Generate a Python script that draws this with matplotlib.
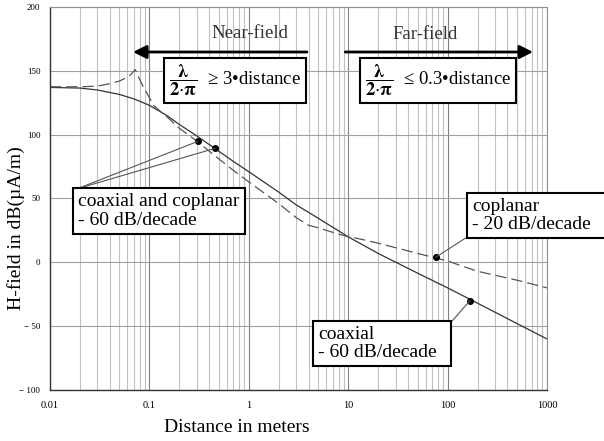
import matplotlib
matplotlib.use("Agg")
import matplotlib.pyplot as plt
from matplotlib.ticker import FixedLocator, FixedFormatter, LogLocator, NullFormatter

plt.rcParams['font.family'] = ['Liberation Serif', 'DejaVu Serif']
plt.rcParams['mathtext.fontset'] = 'stix'

# data
coax_d = [0.01, 0.02, 0.03, 0.05, 0.07, 0.1, 0.15, 0.2, 0.3, 0.5, 0.7, 1, 2, 3, 5,
          10, 20, 50, 100, 200, 500, 1000]
coax_db = [137, 136.5, 135, 131.5, 128, 123, 115, 108, 99, 87, 79, 71, 55, 45, 34.5,
           20, 7, -8.5, -20, -32, -48, -60]

copl_d = [0.01, 0.02, 0.03, 0.04, 0.05, 0.06, 0.065, 0.072, 0.078, 0.086, 0.1, 0.11,
          0.13, 0.15, 0.2, 0.3, 0.5, 0.7, 1, 2, 3, 4, 5, 7, 10, 12, 20, 50, 100, 200,
          500, 1000]
copl_db = [137.5, 137.5, 138, 140, 142, 145, 147, 151, 145, 138, 129, 123,
           118, 114, 105, 95, 81, 72, 63, 46, 35, 29, 27, 23.5, 20, 19, 15, 7, 1, -7,
           -14, -20]

# marked points (distance, dB)
dots_d = [0.308, 0.457, 76, 168]
dots_db = [94.8, 89.3, 4, -30]

x_ticks = [0.01, 0.1, 1, 10, 100, 1000]
x_labels = ['0.01', '0.1', '1', '10', '100', '1000']
y_ticks = [-100, -50, 0, 50, 100, 150, 200]
y_labels = ['\u2212 100', '\u2212 50', '0', '50', '100', '150', '200']

fig = plt.figure(figsize=(6.04, 4.41), dpi=100)
ax = fig.add_axes([50/604, 1-390/441, 497/604, 383/441])

ax.set_xscale('log')
ax.set_xlim(0.01, 1000)
ax.set_ylim(-100, 200)

ax.xaxis.set_major_locator(FixedLocator(x_ticks))
ax.xaxis.set_major_formatter(FixedFormatter(x_labels))
ax.xaxis.set_minor_locator(LogLocator(base=10, subs=range(2, 10)))
ax.xaxis.set_minor_formatter(NullFormatter())
ax.yaxis.set_major_locator(FixedLocator(y_ticks))
ax.yaxis.set_major_formatter(FixedFormatter(y_labels))
ax.tick_params(which='both', length=0)
ax.tick_params(axis='x', labelsize=7.5, pad=8)
ax.tick_params(axis='y', labelsize=6.5, pad=7)

ax.grid(which='major', axis='x', color='#808080', lw=0.8)
ax.grid(which='minor', axis='x', color='#c0c0c0', lw=0.8)
ax.grid(which='major', axis='y', color='#a0a0a0', lw=0.8)
ax.set_axisbelow(True)
for s in ['top', 'right']:
    ax.spines[s].set_color('#909090')
    ax.spines[s].set_linewidth(0.8)
for s in ['left', 'bottom']:
    ax.spines[s].set_color('#333333')
    ax.spines[s].set_linewidth(1.0)

ax.plot(coax_d, coax_db, color='#333333', lw=0.9)
ax.plot(copl_d, copl_db, color='#555555', lw=0.9, dashes=(9, 4))
ax.plot(dots_d, dots_db, 'o', color='black', ms=4)

# near/far field arrows and labels
ax.annotate('', xy=(0.167, 0.8825), xytext=(0.517, 0.8825), xycoords='axes fraction',
            arrowprops=dict(arrowstyle='-|>', lw=2, color='black', mutation_scale=20,
                            shrinkA=0, shrinkB=0))
ax.annotate('', xy=(0.972, 0.8825), xytext=(0.594, 0.8825), xycoords='axes fraction',
            arrowprops=dict(arrowstyle='-|>', lw=2, color='black', mutation_scale=20,
                            shrinkA=0, shrinkB=0))
ax.text(0.402, 0.932, 'Near-field', transform=ax.transAxes, ha='center', va='center',
        fontsize=13.5, color='#333333')
ax.text(0.755, 0.927, 'Far-field', transform=ax.transAxes, ha='center', va='center',
        fontsize=13.5, color='#333333')

box = dict(boxstyle='square,pad=0.25', fc='white', ec='black', lw=1.5)
frac = r'$\dfrac{\mathbf{\lambda}}{\mathbf{2}{\cdot}\mathbf{\pi}}$'
ax.text(0.372, 0.808, frac + '  \u2265 3\u2022distance', transform=ax.transAxes,
        ha='center', va='center', fontsize=13.5, bbox=box)
ax.text(0.781, 0.808, frac + '  \u2264 0.3\u2022distance ', transform=ax.transAxes,
        ha='center', va='center', fontsize=13.5, bbox=box)

# leader lines from boxes to marked points
line = dict(arrowstyle='-', color='#555555', lw=0.8, shrinkA=0, shrinkB=0)
for d, v, corner in [(dots_d[0], dots_db[0], (0.054, 0.525)),
                     (dots_d[1], dots_db[1], (0.054, 0.525)),
                     (dots_d[2], dots_db[2], (0.839, 0.399)),
                     (dots_d[3], dots_db[3], (0.809, 0.180))]:
    ax.annotate('', xy=(d, v), xycoords='data', xytext=corner,
                textcoords='axes fraction', arrowprops=line)

ax.text(0.057, 0.467, 'coaxial and coplanar\n- 60 dB/decade', transform=ax.transAxes,
        ha='left', va='center', fontsize=14, linespacing=1.15, bbox=box)
ax.text(0.849, 0.456, 'coplanar\n- 20 dB/decade   ', transform=ax.transAxes,
        ha='left', va='center', fontsize=14, linespacing=1.05, bbox=box)
ax.text(0.539, 0.121, 'coaxial\n- 60 dB/decade  ', transform=ax.transAxes,
        ha='left', va='center', fontsize=14, linespacing=1.05, bbox=box)

fig.text(16/604, 1-228.5/441, 'H-field in dB(\u00b5A/m)', rotation=90,
         ha='center', va='center', fontsize=14)
fig.text(237/604, 1-428/441, 'Distance in meters', ha='center', va='center',
         fontsize=14)

fig.savefig('out.png', dpi=100)
